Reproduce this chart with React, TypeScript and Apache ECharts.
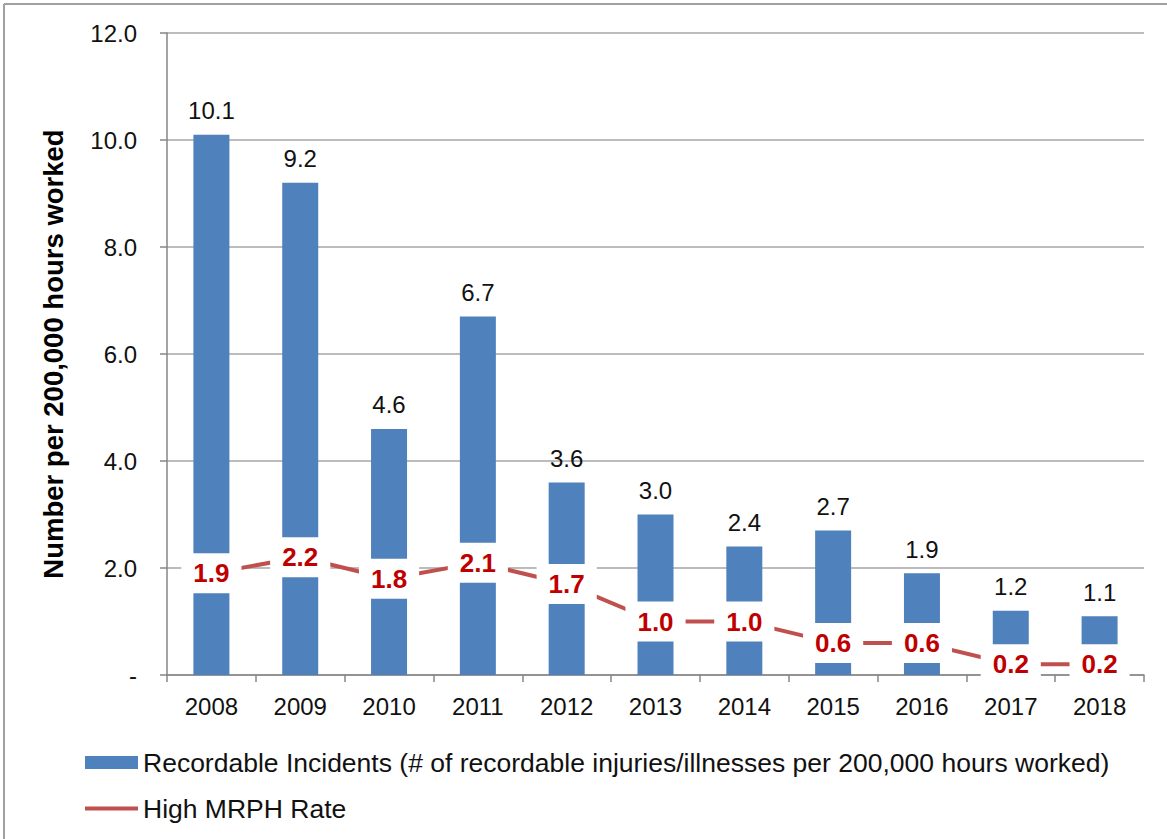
import React, { useEffect, useRef } from "react";
import * as echarts from "echarts";

const years = ["2008", "2009", "2010", "2011", "2012", "2013", "2014", "2015", "2016", "2017", "2018"];
const recordableIncidents = [10.1, 9.2, 4.6, 6.7, 3.6, 3.0, 2.4, 2.7, 1.9, 1.2, 1.1];
const highMrphRate = [1.9, 2.2, 1.8, 2.1, 1.7, 1.0, 1.0, 0.6, 0.6, 0.2, 0.2];

const barName = "Recordable Incidents (# of recordable injuries/illnesses per 200,000 hours worked)";
const lineName = "High MRPH Rate";
const yAxisTitle = "Number per 200,000 hours worked";

const FONT = "'Liberation Sans', Arial, Helvetica, sans-serif";
const BLUE = "#4f81bd";
const RED_LINE = "#c0504d";
const RED_TEXT = "#c00000";

export default function App() {
  const ref = useRef<HTMLDivElement>(null);

  useEffect(() => {
    if (!ref.current) return;
    const chart = echarts.init(ref.current, undefined, { renderer: "svg" });
    chart.setOption({
      animation: false,
      backgroundColor: "#ffffff",
      textStyle: { fontFamily: FONT },
      graphic: [
        { type: "line", shape: { x1: 4, y1: 4, x2: 1167, y2: 4 }, style: { stroke: "#a0a0a0", lineWidth: 2 } },
        { type: "line", shape: { x1: 4, y1: 4, x2: 4, y2: 839 }, style: { stroke: "#a0a0a0", lineWidth: 2 } },
      ],
      grid: { left: 167, right: 23, top: 33, bottom: 164, containLabel: false },
      legend: {
        orient: "vertical",
        left: 80,
        top: 744,
        itemWidth: 53,
        itemHeight: 13,
        itemGap: 19,
        symbolKeepAspect: true,
        textStyle: { fontSize: 26.5, color: "#111", fontFamily: FONT },
        data: [
          { name: barName, icon: "rect" },
          { name: lineName, icon: "path://M0,0H53V4H0Z" },
        ],
      },
      xAxis: {
        type: "category",
        data: years,
        axisLine: { lineStyle: { color: "#868686", width: 1.5 } },
        axisTick: { show: true, alignWithLabel: false, length: 7, lineStyle: { color: "#868686", width: 1.5 } },
        axisLabel: { fontSize: 24, color: "#111", margin: 19, fontFamily: FONT },
      },
      yAxis: {
        type: "value",
        min: 0,
        max: 12,
        interval: 2,
        name: yAxisTitle,
        nameLocation: "middle",
        nameGap: 100,
        nameTextStyle: { fontSize: 27.5, fontWeight: "bold", color: "#000", fontFamily: FONT },
        axisLine: { show: true, lineStyle: { color: "#868686", width: 1.5 } },
        axisTick: { show: true, length: 7, lineStyle: { color: "#868686", width: 1.5 } },
        axisLabel: {
          fontSize: 24,
          color: "#111",
          margin: 30,
          fontFamily: FONT,
          formatter: (v: number) => (v === 0 ? "-" : v.toFixed(1)),
        },
        splitLine: { show: true, lineStyle: { color: "#a6a6a6", width: 1.5 } },
      },
      series: [
        {
          name: barName,
          type: "bar",
          data: recordableIncidents,
          barWidth: 36,
          z: 2,
          itemStyle: { color: BLUE },
          label: {
            show: true,
            position: "top",
            distance: 12,
            fontSize: 24,
            color: "#111",
            fontFamily: FONT,
            formatter: (p: any) => Number(p.value).toFixed(1),
          },
        },
        {
          name: lineName,
          type: "line",
          data: highMrphRate,
          symbol: "circle",
          symbolSize: 2,
          showSymbol: true,
          z: 5,
          itemStyle: { color: RED_LINE },
          lineStyle: { color: RED_LINE, width: 4 },
          label: {
            show: true,
            position: "inside",
            fontSize: 26,
            fontWeight: "bold",
            color: RED_TEXT,
            fontFamily: FONT,
            backgroundColor: "#ffffff",
            padding: [7, 12],
            formatter: (p: any) => Number(p.value).toFixed(1),
          },
        },
      ],
    });
    return () => chart.dispose();
  }, []);

  return (
    <div
      ref={ref}
      style={{ position: "absolute", left: 0, top: 0, width: 1167, height: 839 }}
    />
  );
}
